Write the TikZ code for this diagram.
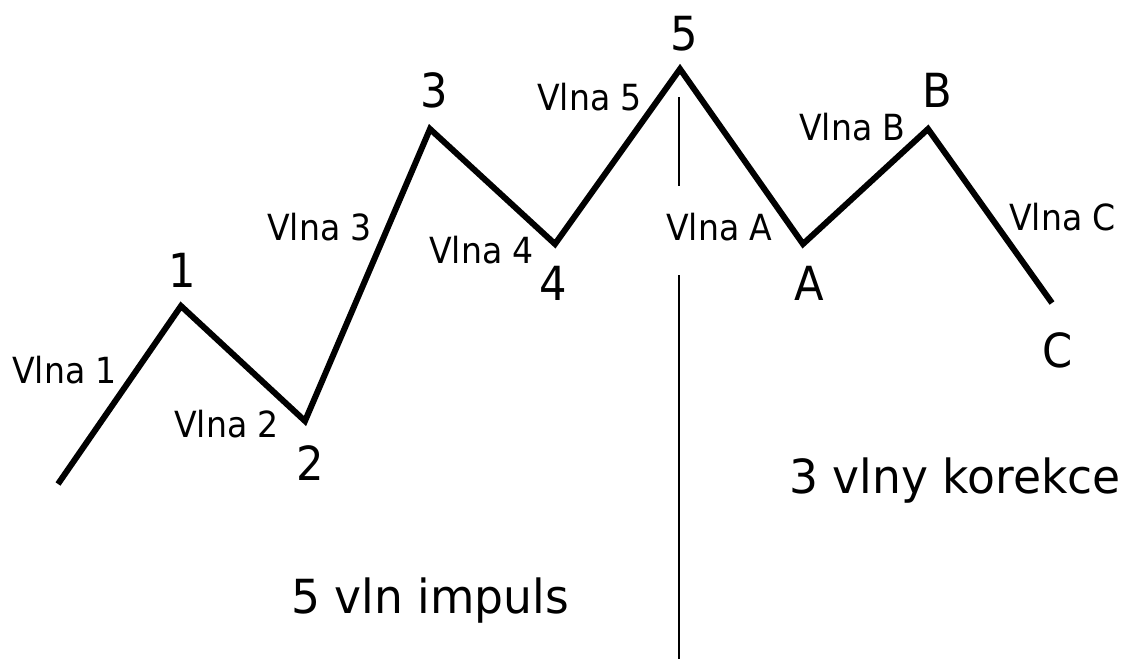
\documentclass[tikz,border=0pt]{standalone}
\usepackage{fontspec}
\usepackage{graphicx}
\setmainfont{DejaVu Sans}
\newcommand{\narrowtext}[1]{\scalebox{0.92}[1]{#1}}
\newcommand{\captiontext}[1]{\scalebox{0.97}[1]{#1}}
\begin{document}
\begin{tikzpicture}[x=1pt,y=-1pt,
  wave/.style={line width=6pt,line join=miter,black},
  divider/.style={line width=1.5pt,black},
  small/.style={inner sep=0pt,font=\fontsize{36}{42}\selectfont,anchor=base west},
  big/.style={inner sep=0pt,font=\fontsize{47}{54}\selectfont,anchor=base},
  caption/.style={inner sep=0pt,font=\fontsize{47}{54}\selectfont,anchor=base west}]
\useasboundingbox[fill=white] (0,0) rectangle (1130,659);
% wave points
\coordinate (p0) at (58,484);
\coordinate (p1) at (181,306);
\coordinate (p2) at (305,421);
\coordinate (p3) at (430,129);
\coordinate (p4) at (555,244);
\coordinate (p5) at (680,69);
\coordinate (pA) at (803,244);
\coordinate (pB) at (928,129);
\coordinate (pC) at (1052,303);
\draw[wave] (p0) -- (p1) -- (p2) -- (p3) -- (p4) -- (p5) -- (pA) -- (pB) -- (pC);
% divider
\coordinate (v1) at (679,97);
\coordinate (v2) at (679,186);
\coordinate (v3) at (679,275);
\coordinate (v4) at (679,659);
\draw[divider] (v1) -- (v2);
\draw[divider] (v3) -- (v4);
% point labels
\node[big] (l1) at (182,287) {\narrowtext{1}};
\node[big] (l2) at (310,480) {\narrowtext{2}};
\node[big] (l3) at (434,107) {\narrowtext{3}};
\node[big] (l4) at (553,300) {\narrowtext{4}};
\node[big] (l5) at (684,50) {\narrowtext{5}};
\node[big] (lA) at (809,300) {\narrowtext{A}};
\node[big] (lB) at (937,107) {\narrowtext{B}};
\node[big] (lC) at (1058,367) {\narrowtext{C}};
% wave labels
\node[small] (w1) at (12,383) {\narrowtext{Vlna 1}};
\node[small] (w2) at (174,437) {\narrowtext{Vlna 2}};
\node[small] (w3) at (267,240) {\narrowtext{Vlna 3}};
\node[small] (w4) at (429,263) {\narrowtext{Vlna 4}};
\node[small] (w5) at (537,110) {\narrowtext{Vlna 5}};
\node[small] (wA) at (666,240) {\narrowtext{Vlna A}};
\node[small] (wB) at (799,140) {\narrowtext{Vlna B}};
\node[small] (wC) at (1009,230) {\narrowtext{Vlna C}};
% captions
\node[caption] (c1) at (291,613) {\captiontext{5 vln impuls}};
\node[caption] (c2) at (789,493) {\captiontext{3 vlny korekce}};
\end{tikzpicture}
\end{document}
